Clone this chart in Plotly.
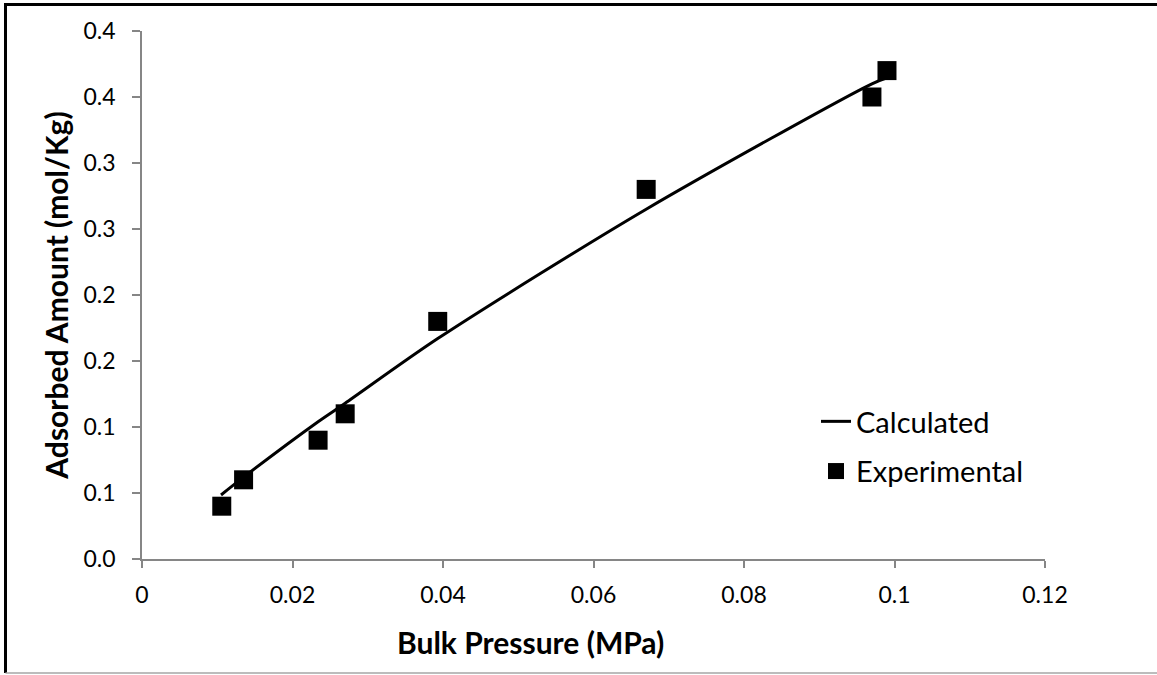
import plotly.graph_objects as go

# ---- data ----
exp_x = [0.0106, 0.0135, 0.0234, 0.0270, 0.0393, 0.0670, 0.0970, 0.0990]
exp_y = [0.040, 0.060, 0.090, 0.110, 0.180, 0.280, 0.350, 0.370]

calc_x = [0.0105, 0.0135, 0.0234, 0.0270, 0.0393, 0.0670, 0.0970, 0.0990]
calc_y = [0.0485, 0.062, 0.104, 0.118, 0.167, 0.265, 0.360, 0.3645]

x_tickvals = [0, 0.02, 0.04, 0.06, 0.08, 0.10, 0.12]
x_ticktext = ["0", "0.02", "0.04", "0.06", "0.08", "0.1", "0.12"]
y_tickvals = [0, 0.05, 0.10, 0.15, 0.20, 0.25, 0.30, 0.35, 0.40]
y_ticktext = ["0.0", "0.1", "0.1", "0.2", "0.2", "0.3", "0.3", "0.4", "0.4"]

x_title = "Bulk Pressure (MPa)"
y_title = "Adsorbed Amount (mol/Kg)"

FONT = "Lato"
AXIS_GREY = "#868686"

fig = go.Figure()
fig.add_trace(go.Scatter(
    x=calc_x, y=calc_y, mode="lines", name="Calculated", legendgroup="calc",
    line=dict(color="black", width=3, shape="spline", smoothing=0.8),
))
fig.add_trace(go.Scatter(
    x=exp_x, y=exp_y, mode="markers", name="Experimental", legendgroup="exp",
    marker=dict(symbol="square", size=19, color="black"),
))

W, H = 1157, 675
L, R, T, B = 142, 112, 31, 116
pw, ph = W - L - R, H - T - B

def px(xp):
    return (xp - L) / pw

def py(yp):
    return (H - B - yp) / ph

fig.update_layout(
    width=W, height=H,
    margin=dict(l=L, r=R, t=T, b=B),
    paper_bgcolor="white", plot_bgcolor="white",
    font=dict(family=FONT, color="black", size=23),
    showlegend=True,
    legend=dict(
        x=px(816), y=py(396), xanchor="left", yanchor="top",
        font=dict(family=FONT, size=29, color="black"),
        bgcolor="rgba(0,0,0,0)", tracegroupgap=9,
    ),
    xaxis=dict(
        range=[0, 0.12], tickmode="array", tickvals=x_tickvals, ticktext=x_ticktext,
        showgrid=False, zeroline=False, showline=True, linecolor=AXIS_GREY, linewidth=1.5,
        ticks="outside", ticklen=7, tickwidth=1.5, tickcolor=AXIS_GREY,
        tickfont=dict(family=FONT, size=23, color="black"), ticklabelstandoff=8,
    ),
    yaxis=dict(
        range=[0, 0.4], tickmode="array", tickvals=y_tickvals, ticktext=y_ticktext,
        showgrid=False, zeroline=False, showline=True, linecolor=AXIS_GREY, linewidth=1.5,
        ticks="outside", ticklen=8, tickwidth=1.5, tickcolor=AXIS_GREY,
        tickfont=dict(family=FONT, size=23, color="black"), ticklabelstandoff=12,
        title=dict(text=f"<b>{y_title}</b>", font=dict(family=FONT, size=30, color="black"),
                   standoff=6),
    ),
    annotations=[dict(
        text=f"<b>{x_title}</b>", xref="paper", yref="paper",
        x=px(530), y=py(642), xanchor="center", yanchor="middle", showarrow=False,
        font=dict(family=FONT, size=30, color="black"),
    )],
    shapes=[
        dict(type="line", xref="paper", yref="paper", x0=px(5.5), x1=px(1160), y0=py(4.5), y1=py(4.5),
             line=dict(color="black", width=3)),
        dict(type="line", xref="paper", yref="paper", x0=px(5.5), x1=px(5.5), y0=py(3), y1=py(673),
             line=dict(color="black", width=3)),
        dict(type="line", xref="paper", yref="paper", x0=px(5.5), x1=px(1160), y0=py(673), y1=py(673),
             line=dict(color="#a6a6a6", width=1.5)),
    ],
)

fig.write_html("out.html")
